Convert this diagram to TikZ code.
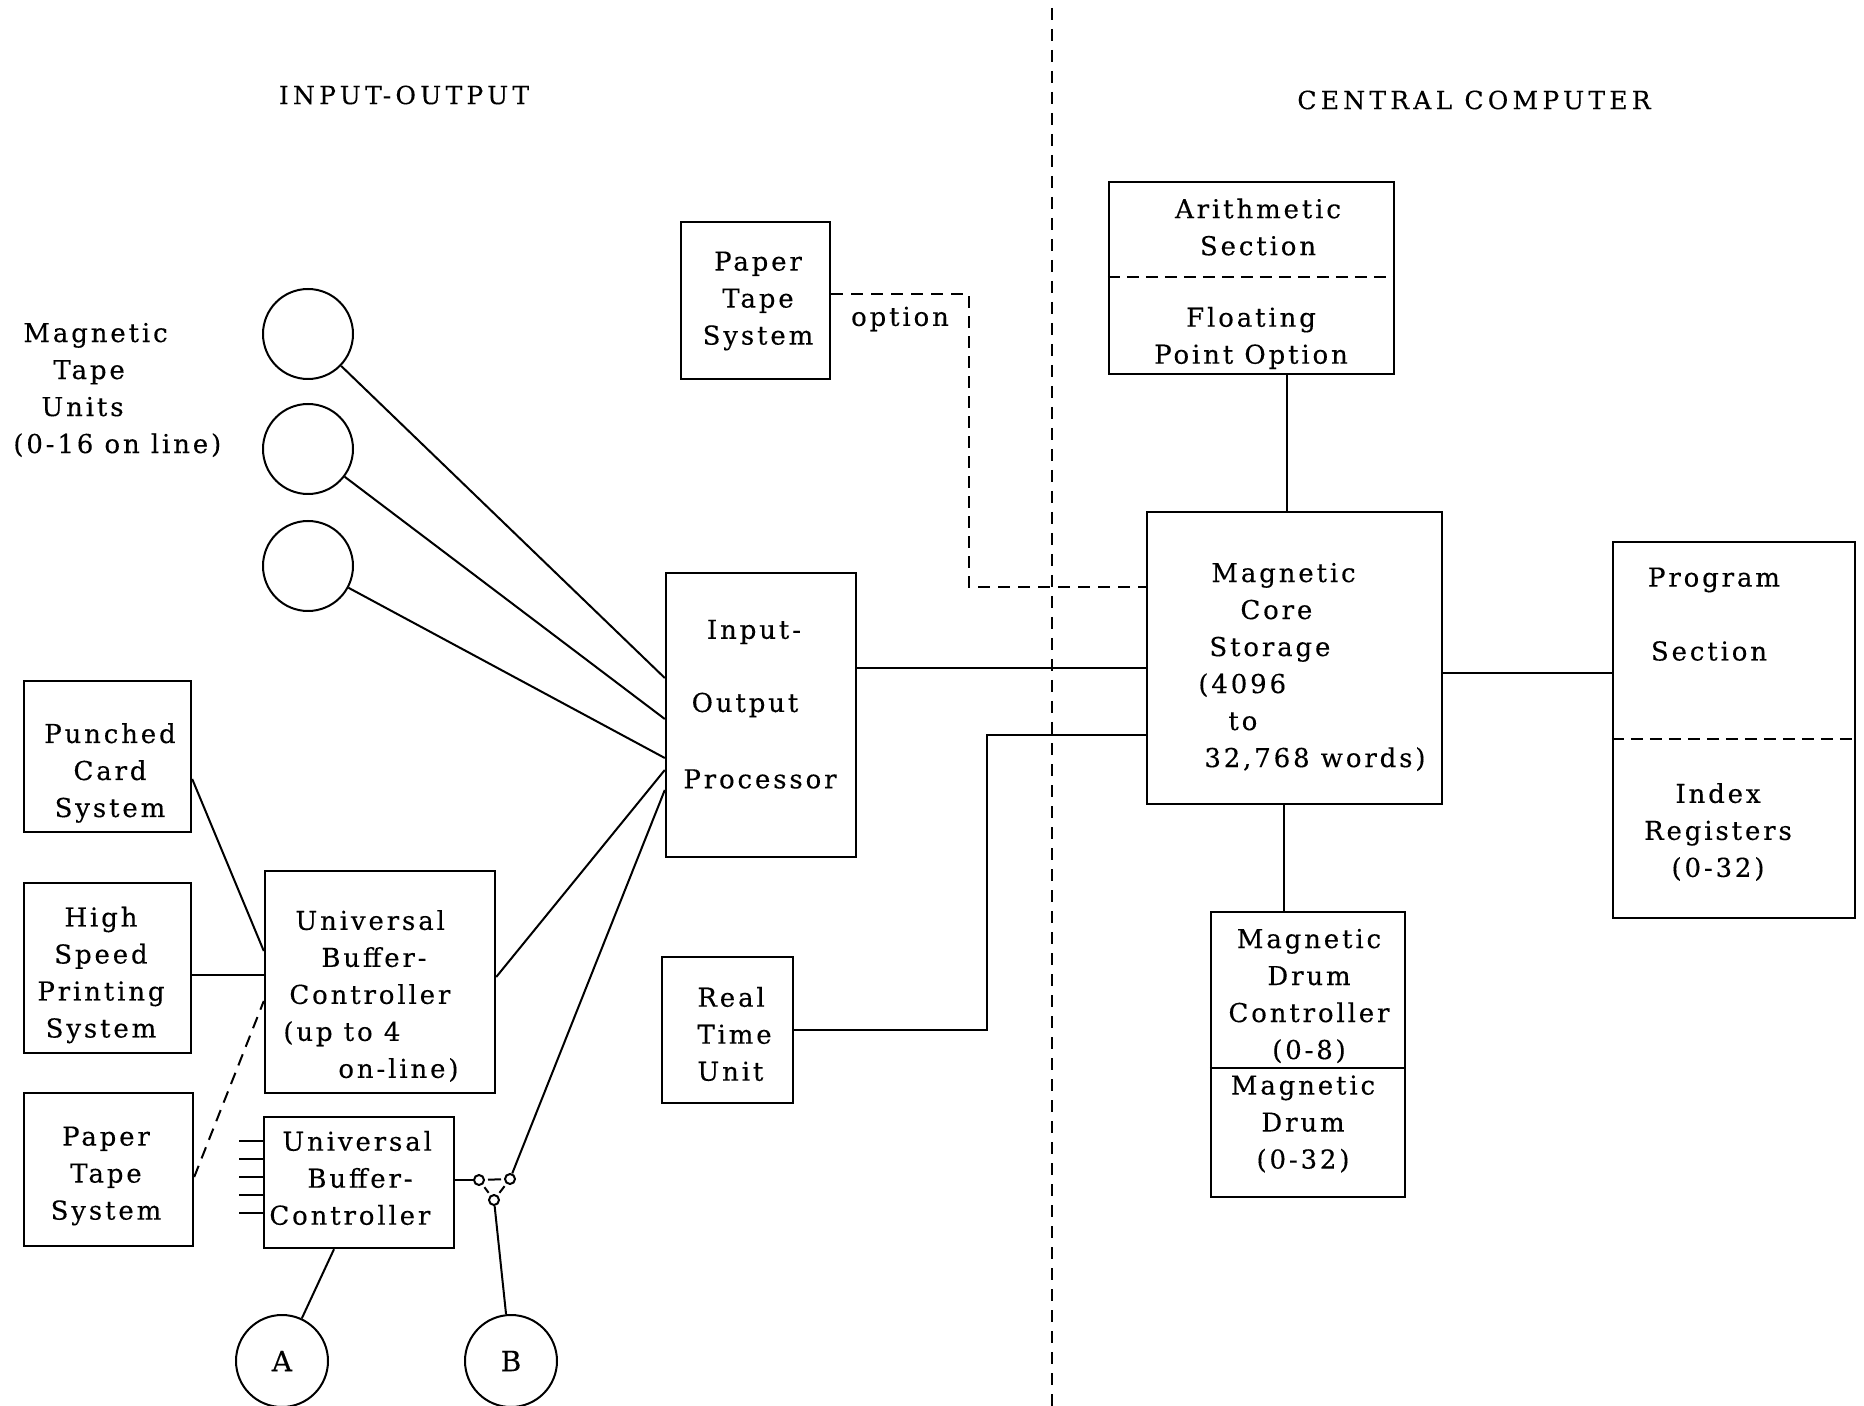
\documentclass[tikz,border=0pt]{standalone}
\usepackage{fontspec}
\setmainfont{DejaVu Serif}
\newfontfamily\df{DejaVu Serif}[LetterSpace=11,FakeBold=0.3]
\newfontfamily\tf{DejaVu Serif}[LetterSpace=17,FakeBold=0.3]
\usetikzlibrary{fit,calc}
\tikzset{
  box/.style={draw, line width=1.2pt, inner sep=0pt},
  txt/.style={inner sep=0pt, font=\df\fontsize{13}{18.5}\selectfont},
  txtc/.style={txt, align=center},
  txtl/.style={txt, align=left, anchor=west},
  title/.style={inner sep=0pt, font=\tf\fontsize{12.5}{15}\selectfont},
  conn/.style={line width=1pt},
  dconn/.style={line width=1pt, dash pattern=on 6pt off 4pt},
  divline/.style={line width=0.8pt, dash pattern=on 6pt off 4.5pt},
  inner/.style={line width=1pt, dash pattern=on 6pt off 3.5pt},
  disk/.style={draw, circle, line width=1pt, minimum size=45pt, inner sep=0pt},
  bigdisk/.style={draw, circle, line width=1pt, minimum size=46pt, inner sep=0pt},
  sw/.style={draw, circle, line width=1pt, minimum size=5pt, inner sep=0pt},
}
\begin{document}
\begin{tikzpicture}[x=0.5pt,y=-0.5pt]
\useasboundingbox (0,0) rectangle (1864,1406);
% dividing line
\coordinate (divtop) at (1052,8);
\coordinate (divbot) at (1052,1406);
\draw[divline] (divtop) -- (divbot);
% titles
\node[title] (iotitle) at (404,95) {INPUT-OUTPUT};
\node[title] (cctitle) at (1474,100) {CENTRAL COMPUTER};
% boxes
\node[box, fit={(681,222) (830,379)}] (pts) {};
\node[box, fit={(1109,182) (1394,374)}] (arith) {};
\node[box, fit={(1147,512) (1442,804)}] (mcs) {};
\node[box, fit={(1613,542) (1855,918)}] (prog) {};
\node[box, fit={(1211,912) (1405,1197)}] (drum) {};
\node[box, fit={(666,573) (856,857)}] (iop) {};
\node[box, fit={(662,957) (793,1103)}] (rtu) {};
\node[box, fit={(24,681) (191,832)}] (pcs) {};
\node[box, fit={(24,883) (191,1053)}] (hsp) {};
\node[box, fit={(24,1093) (193,1246)}] (ptb) {};
\node[box, fit={(265,871) (495,1093)}] (ubc) {};
\node[box, fit={(264,1117) (454,1248)}] (ubs) {};
% inner dividers
\draw[inner] (arith.west |- 0,277) -- (arith.east |- 0,277);
\draw[inner] (prog.west |- 0,739) -- (prog.east |- 0,739);
\draw[line width=1.2pt] (drum.west |- 0,1068) -- (drum.east |- 0,1068);
% circles
\node[disk] (t1) at (308,334) {};
\node[disk] (t2) at (308,449) {};
\node[disk] (t3) at (308,566) {};
\node[bigdisk, font=\df\fontsize{14}{18.5}\selectfont] (A) at (282,1361) {A};
\node[bigdisk, font=\df\fontsize{14}{18.5}\selectfont] (B) at (511,1361) {B};
% switch
\node[sw] (s1) at (479,1180) {};
\node[sw] (s2) at (510,1179) {};
\node[sw] (s3) at (494,1200) {};
% texts
\node[txtl] (tapelbl) at (13,390) {\hspace*{5pt}Magnetic\\\hspace*{20pt}Tape\\\hspace*{14pt}Units\\(0-16 on line)};
\node[txtc] (ptstxt) at (758,301) {Paper\\Tape\\System};
\node[txt] (opt) at (900,319) {option};
\node[txtc] (arithtxt) at (1258,227) {Arithmetic\\Section};
\node[txtc] (fptxt) at (1251,338) {Floating\\Point Option};
\node[txtl] (mcstxt) at (1198,667) {\hspace*{6.5pt}Magnetic\\\hspace*{21pt}Core\\\hspace*{5.5pt}Storage\\(4096\\\hspace*{15pt}to\\\hspace*{3pt}32,768 words)};
\node[txt] (progtxt) at (1714,580) {Program};
\node[txt] (sectxt) at (1709,651) {Section};
\node[txtc] (idxtxt) at (1718,832) {Index\\Registers\\(0-32)};
\node[txtc] (mdctxt) at (1309,996) {Magnetic\\Drum\\Controller\\(0-8)};
\node[txtc] (mdtxt) at (1303,1124) {Magnetic\\Drum\\(0-32)};
\node[txt] (ioptxt1) at (754,632) {Input-};
\node[txt] (ioptxt2) at (745,705) {Output};
\node[txt] (ioptxt3) at (760,779) {Processor};
\node[txtl] (rtutxt) at (697,1034) {Real\\Time\\Unit};
\node[txtc] (pcstxt) at (110,773) {Punched\\Card\\System};
\node[txtc] (hsptxt) at (101,975) {High\\Speed\\Printing\\System};
\node[txtc] (ptbtxt) at (106,1176) {Paper\\Tape\\System};
\node[txtl] (ubctxt) at (283,996) {\hspace*{6pt}Universal\\\hspace*{19pt}Buffer-\\\hspace*{3pt}Controller\\(up to 4\\\hspace*{27.5pt}on-line)};
\node[txtl] (ubstxt) at (269,1178) {\hspace*{6.5pt}Universal\\\hspace*{19pt}Buffer-\\Controller};
% connectors
\draw[conn] (t1) -- (iop.west |- 0,678);
\draw[conn] (t2) -- (iop.west |- 0,719);
\draw[conn] (t3) -- (iop.west |- 0,758);
\draw[conn] (ubc.east |- 0,977) -- (iop.west |- 0,770);
\draw[conn] (s2) -- (iop.west |- 0,790);
\draw[conn] (pcs.east |- 0,779) -- (ubc.west |- 0,951);
\draw[conn] (hsp.east |- 0,975) -- (ubc.west |- 0,975);
\draw[dconn] (ptb.east |- 0,1177) -- (ubc.west |- 0,1001);
\draw[conn] (iop.east |- 0,668) -- (mcs.west |- 0,668);
\coordinate (rtbend) at (987,735);
\draw[conn] (rtu.east |- 0,1030) -| (rtbend) -- (mcs.west |- rtbend);
\coordinate (optbend) at (969,294);
\coordinate (optbend2) at (969,587);
\draw[dconn] (pts.east |- optbend) -- (optbend) -- (optbend2) -- (mcs.west |- optbend2);
\draw[conn] (arith.south -| 1287,0) -- (mcs.north -| 1287,0);
\draw[conn] (mcs.east |- 0,673) -- (prog.west |- 0,673);
\draw[conn] (mcs.south -| 1284,0) -- (drum.north -| 1284,0);
\draw[conn] (ubs.east |- s1) -- (s1);
\draw[conn, shorten <=1.5pt, shorten >=1.5pt] (s1) -- (s2);
\draw[conn, shorten <=1.5pt, shorten >=1.5pt] (s1) -- (s3);
\draw[conn, shorten <=1.5pt, shorten >=1.5pt] (s2) -- (s3);
\draw[conn] (s3) -- (B);
\draw[conn] (ubs.south -| 334,0) -- (A);
\foreach \yy in {1141,1159,1177,1195,1213} {
  \draw[conn] (ubs.west |- 0,\yy) -- ++(-24,0);
}
\end{tikzpicture}
\end{document}
